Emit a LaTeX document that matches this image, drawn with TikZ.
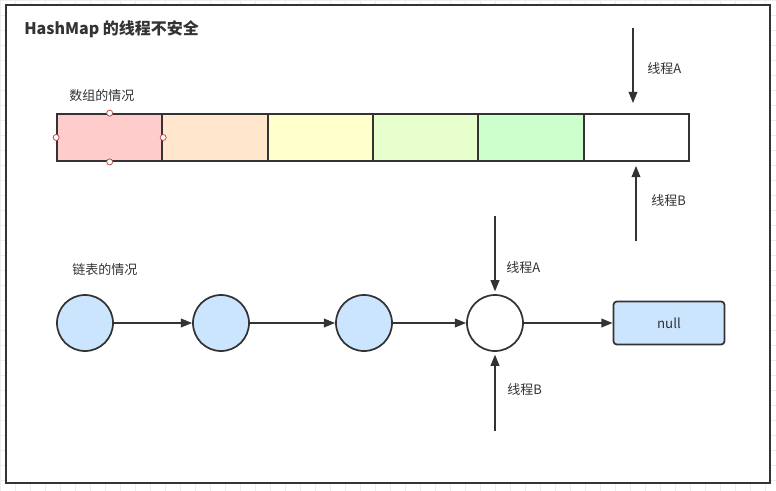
\documentclass[tikz,border=0pt]{standalone}
\usepackage{fontspec}
\setmainfont{Noto Sans CJK SC}
\usepackage{tikz}
\usetikzlibrary{arrows.meta,positioning}
\definecolor{LineDark}{HTML}{333333}
\definecolor{CellRed}{HTML}{FFCCCC}
\definecolor{CellPeach}{HTML}{FFE6CC}
\definecolor{CellYellow}{HTML}{FFFFCC}
\definecolor{CellLime}{HTML}{E6FFCC}
\definecolor{CellGreen}{HTML}{CCFFCC}
\definecolor{NodeBlue}{HTML}{CCE5FF}
\definecolor{HandleRed}{HTML}{B85450}

\begin{document}
\begin{tikzpicture}[
    x=0.75pt, y=-0.75pt,
    cell/.style={draw=LineDark, line width=1.3pt, minimum width=79pt, minimum height=35.25pt, inner sep=0pt},
    listnode/.style={circle, draw=LineDark, line width=1.3pt, minimum size=42pt, inner sep=0pt, fill=NodeBlue},
    handle/.style={circle, draw=HandleRed, fill=white, line width=0.6pt, minimum size=4.5pt, inner sep=0pt},
    flow/.style={draw=LineDark, line width=1.3pt, -{Triangle[length=8.5pt,width=6.5pt]}},
    caption/.style={text=LineDark, font=\fontsize{9.75}{11}\selectfont, inner sep=0pt, anchor=west}
  ]
    \useasboundingbox (0,0) rectangle (776,490);
    % background grid and frame
    \draw[black!7, line width=0.4pt] (-5,-8) grid[step=11.25pt] (790,500);
    \draw[fill=white, draw=LineDark, line width=1.6pt] (6,5) rectangle (770,483);

    \node[anchor=west, inner sep=0pt, text=LineDark, font=\bfseries\fontsize{12}{14}\selectfont] (title) at (24,29) {HashMap 的线程不安全};

    % array
    \node[caption] (arrcap) at (69,96) {数组的情况};
    \foreach \col [count=\i] in {CellRed,CellPeach,CellYellow,CellLime,CellGreen,white} {
      \node[cell, fill=\col] (c\i) at ({57+105.33*(\i-0.5)},137.5) {};
    }
    \foreach \a in {north,south,east,west}
      \node[handle] (h\a) at (c1.\a) {};

    \coordinate (tA) at (633,28);
    \coordinate (tB) at (636,241);
    \draw[flow] (tA) -- ([yshift=7.5pt]tA |- c6.north);
    \draw[flow] (tB) -- ([yshift=-3pt]tB |- c6.south);
    \node[caption] (arrA) at (647,69) {线程A};
    \node[caption] (arrB) at (651,201) {线程B};

    % linked list
    \node[caption] (listcap) at (72,270) {链表的情况};
    \node[listnode] (n1) at (85,323) {};
    \node[listnode] (n2) at (221,323) {};
    \node[listnode] (n3) at (364,323) {};
    \node[listnode, fill=white] (n4) at (495,323) {};
    \node[draw=LineDark, line width=1.3pt, fill=NodeBlue, rounded corners=2.5pt, minimum width=83.25pt, minimum height=32.25pt, inner sep=0pt, text=LineDark, font=\fontsize{10}{12}\selectfont] (null) at (669,323) {null};
    \draw[flow] (n1) -- (n2);
    \draw[flow] (n2) -- (n3);
    \draw[flow] (n3) -- (n4);
    \draw[flow] (n4) -- (null);

    \coordinate (lA) at (495,216);
    \coordinate (lB) at (495,431);
    \draw[flow] (lA) -- ([yshift=2pt]n4.north);
    \draw[flow] (lB) -- ([yshift=-2pt]n4.south);
    \node[caption] (listA) at (506,268) {线程A};
    \node[caption] (listB) at (507,390) {线程B};
  \end{tikzpicture}
\end{document}
